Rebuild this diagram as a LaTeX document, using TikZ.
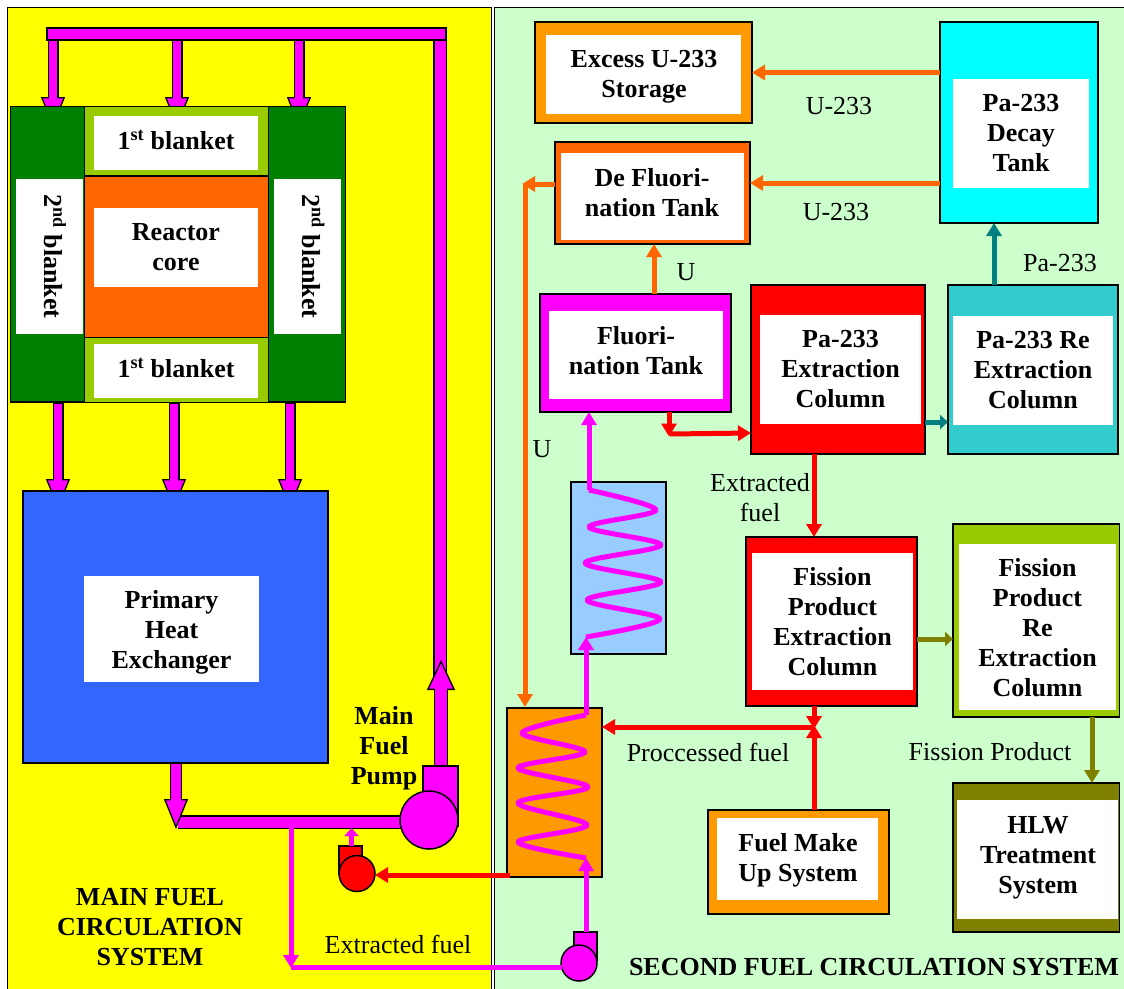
\documentclass[tikz,border=0pt]{standalone}
\usepackage{fontspec}
\setmainfont{Liberation Serif}
\usetikzlibrary{arrows.meta}
\pgfdeclarelayer{panel}
\pgfdeclarelayer{pipes}
\pgfsetlayers{panel,pipes,main}
\begin{document}
\begin{tikzpicture}[x=1pt, y=-1pt,
  dims/.style 2 args={minimum width=#1pt, minimum height=#2pt},
  box/.style={draw=black, line width=1.5pt, inner sep=0pt, outer sep=0pt, anchor=north west},
  lbl/.style={fill=white, inner sep=0pt, outer sep=0pt, anchor=north west, align=center, font=\fontsize{26}{30}\selectfont\bfseries},
  txt/.style={inner sep=0pt, align=center, font=\fontsize{26}{30}\selectfont\bfseries},
  note/.style={inner sep=0pt, align=center, font=\fontsize{26}{30}\selectfont},
  pump/.style={circle, draw=black, line width=1.5pt, inner sep=0pt, outer sep=0pt},
  pipe/.style 2 args={draw=black, line width=#1, -{Triangle[length=30pt, width=#2, line width=1.3pt, color=black, fill=colorPipe]},
    postaction={draw=colorPipe, -, line width=#1-2.6pt, shorten <=1.3pt, shorten >=28pt}},
  flow/.style={line width=5pt, -{Triangle[length=13pt, width=15pt]}},
  stub/.style={line width=5pt, -{Triangle[length=8pt, width=14pt]}},
  coil/.style={draw=colorPipe, line width=5pt, line join=round}
  ]
  % Colours
  \definecolor{colorMainPanel}{RGB}{255, 255, 0}
  \definecolor{colorSecondPanel}{RGB}{204, 255, 204}
  \definecolor{colorBlanketTwo}{RGB}{0, 128, 0}
  \definecolor{colorBlanketOne}{RGB}{153, 204, 0}
  \definecolor{colorCore}{RGB}{255, 102, 0}
  \definecolor{colorHeat}{RGB}{51, 102, 255}
  \definecolor{colorPipe}{RGB}{255, 0, 255}
  \definecolor{colorTank}{RGB}{255, 153, 0}
  \definecolor{colorCooler}{RGB}{153, 204, 255}
  \definecolor{colorDecay}{RGB}{0, 255, 255}
  \definecolor{colorTeal}{RGB}{0, 128, 128}
  \definecolor{colorReColumn}{RGB}{51, 204, 204}
  \definecolor{colorOlive}{RGB}{128, 128, 0}

  \useasboundingbox (0,0) rectangle (1124,988);

  % Panels
  \begin{pgfonlayer}{panel}
    \node[box, line width=1pt, fill=colorMainPanel, dims={484}{990}] (mainPanel) at (7,7) {};
    \node[box, line width=1pt, fill=colorSecondPanel, dims={640}{990}] (secondPanel) at (494,7) {};
  \end{pgfonlayer}

  % Reactor
  \node[box, fill=colorBlanketTwo, dims={74}{295.5}] (leftBlanket) at (10.7,106.7) {};
  \node[box, fill=colorBlanketTwo, dims={77.4}{295.5}] (rightBlanket) at (268.3,106.7) {};
  \node[box, fill=colorBlanketOne, dims={183.6}{69.3}] (topBlanket) at (84.7,106.7) {};
  \node[box, fill=colorCore, dims={183.6}{161.3}] (core) at (84.7,176) {};
  \node[box, fill=colorBlanketOne, dims={183.6}{65}] (lowBlanket) at (84.7,337.3) {};
  \node[lbl, dims={164}{54}] (topBlanketBack) at (94,116) {};
  \node[txt] (topBlanketText) at (176,140) {1\textsuperscript{st} blanket};
  \node[lbl, dims={164}{78.7}] (coreText) at (94,208) {Reactor\\core};
  \node[lbl, dims={164}{54}] (lowBlanketBack) at (94,344) {};
  \node[txt] (lowBlanketText) at (176,368) {1\textsuperscript{st} blanket};
  \node[lbl, dims={67}{154.7}] (leftBlanketBack) at (16,179) {};
  \node[txt, rotate=-90] (leftBlanketText) at (55,256.4) {2\textsuperscript{nd} blanket};
  \node[lbl, dims={67}{154.7}] (rightBlanketBack) at (274,179) {};
  \node[txt, rotate=-90] (rightBlanketText) at (313.5,256.4) {2\textsuperscript{nd} blanket};

  % Header and heat exchanger
  \node[box, fill=colorPipe, dims={398.5}{12}] (header) at (47,28) {};
  \node[box, fill=colorHeat, dims={305}{272}] (heatEx) at (23,491) {};
  \node[lbl, dims={175}{106}] (heatExBack) at (84,576) {};
  \node[txt] (heatExText) at (171.5,632) {Primary\\Heat\\Exchanger};

  % Pumps
  \node[box, fill=colorPipe, dims={35}{60}] (mainBody) at (423,766) {};
  \node[pump, fill=colorPipe, minimum size=58pt] (mainPump) at (429,820) {};
  \node[box, fill=red, dims={23}{28}] (redBody) at (339,846) {};
  \node[pump, fill=red, minimum size=36pt] (redPump) at (357,873.5) {};
  \node[box, fill=colorPipe, dims={23}{28}] (smallBody) at (574,932) {};
  \node[pump, fill=colorPipe, minimum size=36pt] (smallPump) at (579,963) {};

  % Process tanks
  \node[box, fill=colorTank, dims={217}{101}] (excess) at (535,22) {};
  \node[lbl, dims={195}{79}] (excessBack) at (546,35) {};
  \node[txt] (excessText) at (644,76.5) {Excess U-233\\Storage};
  \node[box, fill=colorCore, dims={195}{102}] (deFluor) at (555,142) {};
  \node[lbl, dims={183}{87}] (deFluorBack) at (561,153) {};
  \node[txt] (deFluorText) at (652,193) {De Fluori-\\nation Tank};
  \node[box, fill=colorDecay, dims={158}{201}] (decay) at (940,22) {};
  \node[lbl, dims={136}{109}] (decayText) at (953,79) {Pa-233\\Decay\\Tank};
  \node[box, fill=colorPipe, dims={191}{118}] (fluor) at (540,294) {};
  \node[lbl, dims={174}{88}] (fluorBack) at (549,311) {};
  \node[txt] (fluorText) at (636,351) {Fluori-\\nation Tank};
  \node[box, fill=red, dims={174}{169}] (paColumn) at (751,285) {};
  \node[lbl, dims={161}{109}] (paColumnText) at (760,315) {Pa-233\\Extraction\\Column};
  \node[box, fill=colorReColumn, dims={170}{169}] (paRe) at (948,285) {};
  \node[lbl, dims={160}{109}] (paReText) at (953,316) {Pa-233 Re\\Extraction\\Column};
  \node[box, fill=colorCooler, dims={95}{172}] (cooler) at (571,482) {};
  \node[box, fill=colorTank, dims={95}{169}] (coilTank) at (507,708) {};
  \node[box, fill=red, dims={171}{169}] (fpColumn) at (746,537) {};
  \node[lbl, dims={161}{137}] (fpColumnText) at (752,553) {Fission\\Product\\Extraction\\Column};
  \node[box, fill=colorBlanketOne, dims={166.5}{193}] (fpRe) at (953,524) {};
  \node[lbl, dims={157}{166}] (fpReBack) at (959,544) {};
  \node[txt] (fpReText) at (1037.5,628) {Fission\\Product\\Re\\Extraction\\Column};
  \node[box, fill=colorOlive, dims={166.5}{149}] (hlw) at (953,783) {};
  \node[lbl, dims={161}{119}] (hlwBack) at (957,800) {};
  \node[txt] (hlwText) at (1038,858) {HLW\\Treatment\\System};
  \node[box, fill=colorTank, dims={181}{104}] (makeUp) at (708,810) {};
  \node[lbl, dims={161}{82}] (makeUpBack) at (717,818) {};
  \node[txt] (makeUpText) at (798,860) {Fuel Make\\Up System};

  % Heavy fuel pipes
  \coordinate (feedA) at (53,127);
  \coordinate (feedB) at (177,127);
  \coordinate (feedC) at (299,127);
  \coordinate (drainA) at (58,509);
  \coordinate (drainB) at (174,509);
  \coordinate (drainC) at (290,509);
  \coordinate (riserTop) at (440,26.5);
  \coordinate (riserLow) at (440,680);
  \coordinate (riserTip) at (441,660);
  \coordinate (outletTip) at (176,829);
  \coordinate (mainLine) at (178,822);
  \begin{pgfonlayer}{pipes}
    \draw[pipe={11pt}{24pt}] (header.south -| feedA) -- (feedA);
    \draw[pipe={11pt}{24pt}] (header.south -| feedB) -- (feedB);
    \draw[pipe={11pt}{24pt}] (header.south -| feedC) -- (feedC);
    \draw[pipe={11pt}{24pt}] (leftBlanket.south -| drainA) -- (drainA);
    \draw[pipe={11pt}{24pt}] (leftBlanket.south -| drainB) -- (drainB);
    \draw[pipe={11pt}{24pt}] (leftBlanket.south -| drainC) -- (drainC);
    \draw[draw=black, line width=13.5pt] (riserTop) -- (riserLow);
    \draw[draw=colorPipe, line width=11pt, shorten <=1.3pt] (riserTop) -- (riserLow);
    \draw[draw=black, line width=13.5pt] (mainLine) -- (mainLine -| mainPump);
    \draw[draw=colorPipe, line width=11pt] (mainLine) -- (mainLine -| mainPump);
    \draw[pipe={14pt}{28pt}] (mainBody.north -| riserTip) -- (riserTip);
    \draw[pipe={12pt}{24pt}] (heatEx.south -| outletTip) -- (outletTip);
  \end{pgfonlayer}

  % Extracted fuel loop
  \coordinate (branchTop) at (291,828);
  \coordinate (branchTip) at (291,968);
  \coordinate (loopEnd) at (562,967);
  \draw[flow, draw=colorPipe] (branchTop) -- (branchTip);
  \draw[line width=5pt, draw=colorPipe] (loopEnd) -- (loopEnd -| branchTip);
  \coordinate (lowCoilIn) at (586,858);
  \coordinate (lowCoilOut) at (586,715);
  \coordinate (highCoilIn) at (586,637);
  \coordinate (highCoilOut) at (589,490);
  \draw[flow, draw=colorPipe] (smallBody.north -| lowCoilIn) -- (lowCoilIn);
  \draw[coil] plot[smooth, tension=0.55] coordinates {(lowCoilIn) (518,842) (587,825) (518,803) (588,787) (518,768) (585,752) (522,733) (lowCoilOut)};
  \draw[flow, draw=colorPipe] (lowCoilOut) -- (highCoilIn);
  \draw[coil] plot[smooth, tension=0.55] coordinates {(highCoilIn) (660,619) (587,600) (661,582) (585,563) (661,545) (589,527) (656,510) (highCoilOut)};
  \draw[flow, draw=colorPipe] (highCoilOut) -- (highCoilOut |- fluor.south);

  % Small pump return
  \coordinate (stubBase) at (351.5,846);
  \coordinate (stubTip) at (351.5,828);
  \coordinate (coolantOut) at (510,875);
  \draw[stub, draw=colorPipe] (stubBase) -- (stubTip);
  \draw[flow, draw=red] (coolantOut) -- (coolantOut -| redPump.east);

  % Second circuit connectors
  \coordinate (decayLow) at (940,183);
  \coordinate (tankRight) at (750,183);
  \coordinate (tankLeft) at (555,184);
  \coordinate (uTurn) at (525,184);
  \coordinate (uTip) at (522,184);
  \coordinate (uDrop) at (525,707);
  \coordinate (uRise) at (654,294);
  \coordinate (fluorOut) at (669,412);
  \coordinate (fluorTurn) at (669,436.5);
  \coordinate (fluorBend) at (670,434);
  \coordinate (paIn) at (751,433);
  \coordinate (paTeal) at (925,422);
  \coordinate (decayRise) at (994,285);
  \coordinate (fpIn) at (814,537);
  \coordinate (fpOlive) at (917,639);
  \coordinate (hlwIn) at (1092,783);
  \coordinate (junction) at (814,727);
  \coordinate (junctionLow) at (814,729);
  \coordinate (junctionHigh) at (814,725);
  \draw[flow, draw=colorCore] (decay.west |- excess.east) -- (excess.east);
  \draw[flow, draw=colorCore] (decayLow) -- (tankRight);
  \draw[flow, draw=colorTeal] (decayRise) -- (decayRise |- decay.south);
  \draw[flow, draw=colorCore] (uRise) -- (uRise |- deFluor.south);
  \draw[flow, draw=colorCore] (tankLeft) -- (uTip);
  \draw[flow, draw=colorCore] (uTurn) -- (uDrop);
  \draw[flow, draw=red] (fluorOut) -- (fluorTurn);
  \draw[flow, draw=red] (fluorBend) -- (paIn);
  \draw[stub, draw=colorTeal] (paTeal) -- (paTeal -| paRe.west);
  \draw[flow, draw=red] (fpIn |- paColumn.south) -- (fpIn);
  \draw[stub, draw=colorOlive] (fpOlive) -- (fpOlive -| fpRe.west);
  \draw[flow, draw=colorOlive] (hlwIn |- fpRe.south) -- (hlwIn);
  \draw[flow, draw=red] (junction |- fpColumn.south) -- (junctionLow);
  \draw[flow, draw=red] (junction |- makeUp.north) -- (junctionHigh);
  \draw[flow, draw=red] (junction) -- (junction -| coilTank.east);

  % Labels
  \node[txt] (mainPumpText) at (384,748.5) {Main\\Fuel\\Pump};
  \node[txt] (mainTitle) at (150,927) {MAIN FUEL\\CIRCULATION\\SYSTEM};
  \node[txt] (secondTitle) at (874,967) {SECOND FUEL CIRCULATION SYSTEM};
  \node[note] (extractedLow) at (398,944) {Extracted fuel};
  \node[note] (uExcess) at (839,106) {U-233};
  \node[note] (uTank) at (836,212) {U-233};
  \node[note] (paLabel) at (1060,263) {Pa-233};
  \node[note] (uShort) at (686,272) {U};
  \node[note] (uLong) at (542,449) {U};
  \node[note] (extractedHigh) at (760,498) {Extracted\\fuel};
  \node[note] (processed) at (708,752) {Proccessed fuel};
  \node[note] (fissionLabel) at (990,752) {Fission Product};
\end{tikzpicture}
\end{document}
